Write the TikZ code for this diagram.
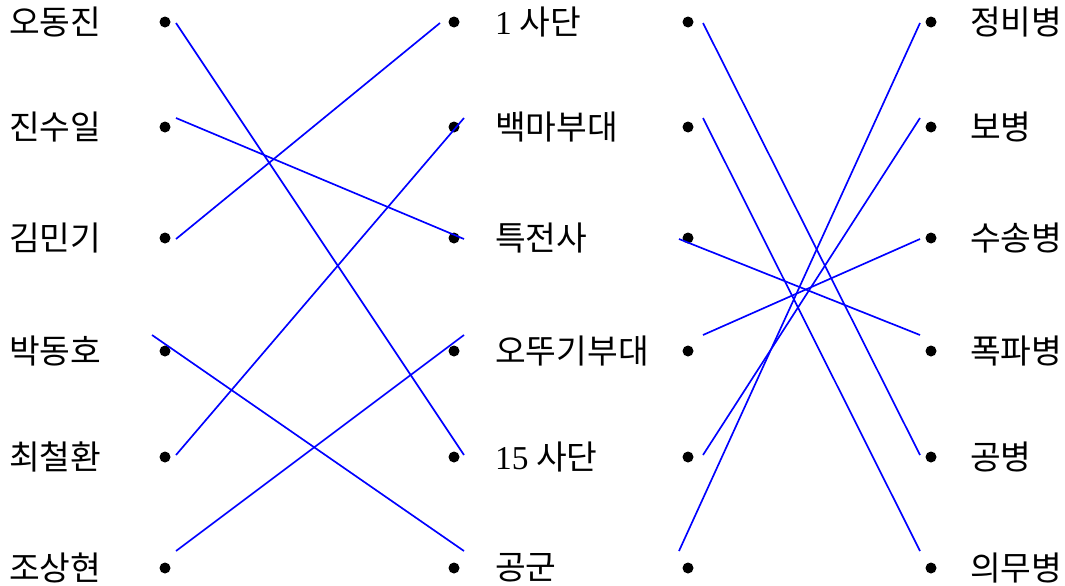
\documentclass[tikz,border=0pt]{standalone}
\usepackage{fontspec}
\setmainfont{Liberation Serif}
\newfontfamily\kr{Noto Sans CJK KR}
\usepackage{tikz}
\usetikzlibrary{positioning}

\begin{document}
\begin{tikzpicture}[
    x=0.02cm, y=-0.02cm,
    bullet/.style={circle, fill=black, inner sep=0pt, minimum size=0.22cm},
    lbl/.style={inner sep=0pt, font=\kr\fontsize{19}{22}\selectfont},
    link/.style={blue, line width=0.95pt}
]
\useasboundingbox (0,0) rectangle (1065,585);

% Left column: people
\node[bullet] (a1) at (165,22) {};
\node[bullet] (a2) at (165,127) {};
\node[bullet] (a3) at (165,238) {};
\node[bullet] (a4) at (165,351) {};
\node[bullet] (a5) at (165,457) {};
\node[bullet] (a6) at (165,568) {};
\node[lbl, left=1.15cm of a1] (la1) {오동진};
\node[lbl, left=1.15cm of a2] (la2) {진수일};
\node[lbl, left=1.15cm of a3] (la3) {김민기};
\node[lbl, left=1.15cm of a4] (la4) {박동호};
\node[lbl, left=1.15cm of a5] (la5) {최철환};
\node[lbl, left=1.15cm of a6] (la6) {조상현};

% Middle column: units
\node[bullet] (b1) at (454,22) {};
\node[bullet] (b2) at (454,127) {};
\node[bullet] (b3) at (454,238) {};
\node[bullet] (b4) at (454,351) {};
\node[bullet] (b5) at (454,457) {};
\node[bullet] (b6) at (454,568) {};
\node[lbl, right=0.7cm of b1] (lb1) {{\rmfamily 1} 사단};
\node[lbl, right=0.7cm of b2] (lb2) {백마부대};
\node[lbl, right=0.7cm of b3] (lb3) {특전사};
\node[lbl, right=0.7cm of b4] (lb4) {오뚜기부대};
\node[lbl, right=0.7cm of b5] (lb5) {{\rmfamily 15} 사단};
\node[lbl, right=0.7cm of b6] (lb6) {공군};

% Third column: blank dots
\node[bullet] (c1) at (688,22) {};
\node[bullet] (c2) at (688,127) {};
\node[bullet] (c3) at (688,238) {};
\node[bullet] (c4) at (688,351) {};
\node[bullet] (c5) at (688,457) {};
\node[bullet] (c6) at (688,568) {};

% Right column: branches
\node[bullet] (d1) at (931,22) {};
\node[bullet] (d2) at (931,127) {};
\node[bullet] (d3) at (931,238) {};
\node[bullet] (d4) at (931,351) {};
\node[bullet] (d5) at (931,457) {};
\node[bullet] (d6) at (931,568) {};
\node[lbl, right=0.66cm of d1] (ld1) {정비병};
\node[lbl, right=0.66cm of d2] (ld2) {보병};
\node[lbl, right=0.66cm of d3] (ld3) {수송병};
\node[lbl, right=0.66cm of d4] (ld4) {폭파병};
\node[lbl, right=0.66cm of d5] (ld5) {공병};
\node[lbl, right=0.66cm of d6] (ld6) {의무병};

% Line ends (drawn a little off the dots)
\coordinate (pa1) at (176,23);
\coordinate (pa2) at (176,118);
\coordinate (pa3) at (176,239);
\coordinate (pa4) at (152,335);
\coordinate (pa5) at (176,455);
\coordinate (pa6) at (176,551);
\coordinate (pb1) at (440,23);
\coordinate (pb2) at (464,118);
\coordinate (pb3) at (464,239);
\coordinate (pb4) at (464,335);
\coordinate (pb5) at (464,455);
\coordinate (pb6) at (464,551);
\coordinate (pc1) at (703,23);
\coordinate (pc2) at (703,118);
\coordinate (pc3) at (679,239);
\coordinate (pc4) at (703,335);
\coordinate (pc5) at (703,455);
\coordinate (pc6) at (679,551);
\coordinate (pd1) at (920,23);
\coordinate (pd2) at (920,118);
\coordinate (pd3) at (920,239);
\coordinate (pd4) at (920,335);
\coordinate (pd5) at (920,455);
\coordinate (pd6) at (920,551);

% Links - people to units
\draw[link] (pa1) -- (pb5);
\draw[link] (pa2) -- (pb3);
\draw[link] (pa3) -- (pb1);
\draw[link] (pa4) -- (pb6);
\draw[link] (pa5) -- (pb2);
\draw[link] (pa6) -- (pb4);

% Links - third column to branches
\draw[link] (pc1) -- (pd5);
\draw[link] (pc2) -- (pd6);
\draw[link] (pc3) -- (pd4);
\draw[link] (pc4) -- (pd3);
\draw[link] (pc5) -- (pd2);
\draw[link] (pc6) -- (pd1);

\end{tikzpicture}
\end{document}
